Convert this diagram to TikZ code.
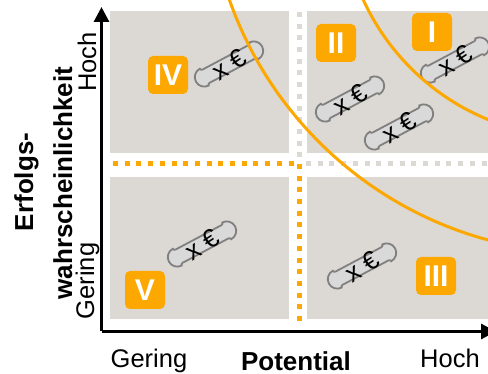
\documentclass[tikz,border=0pt]{standalone}
\usepackage{fontspec}
\setmainfont{Liberation Sans}
\usetikzlibrary{arrows.meta}

\definecolor{quad}{RGB}{220,216,211}
\definecolor{amber}{RGB}{253,168,0}
\definecolor{capfill}{RGB}{217,217,217}
\definecolor{capline}{RGB}{128,128,128}

\tikzset{
  quadrant/.style={fill=quad, draw=none},
  orangedots/.style={draw=amber, line width=5pt, dash pattern=on 5pt off 6.7pt},
  greydots/.style={draw=quad, line width=5pt, dash pattern=on 5pt off 6.7pt},
  curve/.style={draw=amber, line width=3pt},
  badge/.style={fill=amber, text=white, rounded corners=5pt, minimum width=40pt,
    minimum height=38pt, inner sep=0pt, font=\fontsize{30}{30}\selectfont\bfseries},
  axis/.style={line width=3pt, -{Triangle[length=15pt,width=15pt]}},
  ticklabel/.style={font=\fontsize{25.5}{26}\selectfont, inner sep=0pt, anchor=base},
  axistitle/.style={font=\fontsize{26}{27}\selectfont\bfseries, inner sep=0pt, anchor=base},
  moneytext/.style={font=\fontsize{26}{26}\selectfont, inner sep=0pt, transform shape, rotate=5},
  money/.pic={
    \draw[fill=capfill, draw=capline, line width=1.8pt]
      (-26,7.5) -- (26,7.5)
      arc[start angle=-90, end angle=0, radius=2]
      arc[start angle=90, end angle=-90, radius=9.5]
      arc[start angle=0, end angle=90, radius=2]
      -- (-26,-7.5)
      arc[start angle=90, end angle=180, radius=2]
      arc[start angle=270, end angle=90, radius=9.5]
      arc[start angle=180, end angle=270, radius=2]
      -- cycle;
    \node[moneytext] (-t) at (0,-1) {x €};
  }
}

\begin{document}
\begin{tikzpicture}[x=1pt, y=1pt]
  \clip (0,0) rectangle (488,-374);
  \useasboundingbox (0,0) rectangle (488,-374);

  % four quadrants
  \fill[quadrant] (110,-11) rectangle (289,-153);
  \fill[quadrant] (307,-11) rectangle (488,-153);
  \fill[quadrant] (110,-177) rectangle (289,-319);
  \fill[quadrant] (307,-177) rectangle (488,-319);

  % dotted separators
  \coordinate (hl) at (113,-164);
  \coordinate (cross) at (299,-164);
  \coordinate (vb) at (299,-321);
  \coordinate (vt) at (299,-12);
  \coordinate (vm) at (299,-158);
  \coordinate (hm) at (306,-164);
  \coordinate (hr) at (490,-164);
  \draw[greydots] (vt) -- (vm);
  \draw[greydots] (hm) -- (hr);
  \draw[orangedots] (hl) -- (cross);
  \draw[orangedots] (cross) -- (vb);

  % amounts
  \pic[rotate=28] (m4) at (229,-64) {money};
  \pic[rotate=28] (m2a) at (350,-99) {money};
  \pic[rotate=28] (m2b) at (399,-127) {money};
  \pic[rotate=28] (m1) at (455,-60) {money};
  \pic[rotate=28] (m5) at (202,-244) {money};
  \pic[rotate=28] (m3) at (362,-266) {money};

  % boundary curves
  \draw[curve] (587,126) circle[radius=379];
  \draw[curve] (577,98) circle[radius=235];

  % quadrant badges
  \node[badge] (q4) at (168,-75) {IV};
  \node[badge] (q2) at (336,-43) {II};
  \node[badge] (q1) at (432,-32) {I};
  \node[badge] (q5) at (145,-290) {V};
  \node[badge] (q3) at (436,-276) {III};

  % axes
  \coordinate (origin) at (101.5,-331.5);
  \coordinate (ytip) at (101.5,-7);
  \coordinate (xtip) at (496,-331.5);
  \draw[axis] (origin) -- (ytip);
  \draw[axis] (origin) -- (xtip);

  % axis labels
  \node[ticklabel] (xlow) at (149,-368) {Gering};
  \node[axistitle] (xtitle) at (296,-371) {Potential};
  \node[ticklabel] (xhigh) at (450,-368) {Hoch};
  \node[ticklabel, rotate=90] (ylow) at (94,-281) {Gering};
  \node[ticklabel, rotate=90] (yhigh) at (96,-62) {Hoch};
  \node[axistitle, rotate=90] (ytitle1) at (33,-182) {Erfolgs-};
  \node[axistitle, rotate=90] (ytitle2) at (72,-183) {wahrscheinlichkeit};
\end{tikzpicture}
\end{document}
